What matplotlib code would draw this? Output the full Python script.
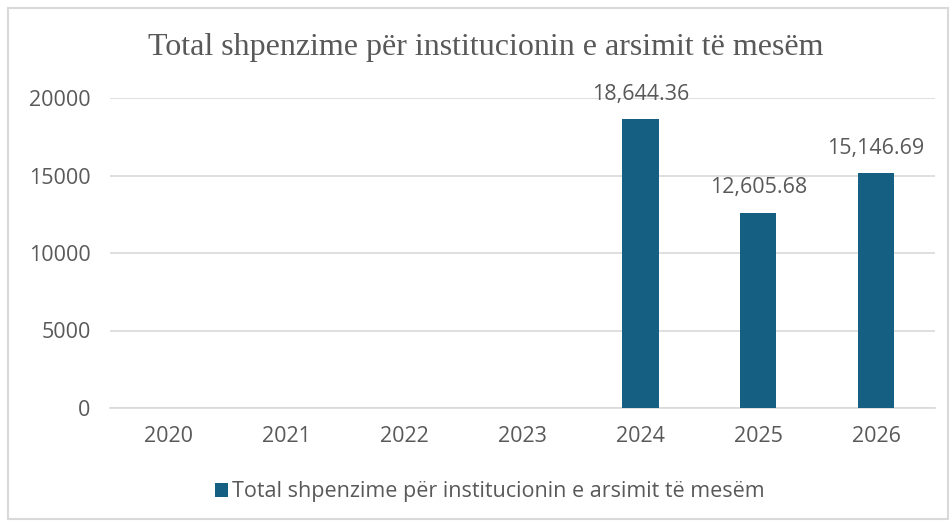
import matplotlib
matplotlib.use("Agg")
import matplotlib.pyplot as plt
from matplotlib.patches import Rectangle

years = ["2020", "2021", "2022", "2023", "2024", "2025", "2026"]
values = [0, 0, 0, 0, 18644.36, 12605.68, 15146.69]
yticks = [0, 5000, 10000, 15000, 20000]
title = "Total shpenzime për institucionin e arsimit të mesëm"
series_name = "Total shpenzime për institucionin e arsimit të mesëm"

bar_color = "#156082"
text_color = "#595959"
grid_color = "#d9d9d9"
sans = ["Open Sans", "DejaVu Sans"]
fs = 15.5

W, H = 953, 527
fig = plt.figure(figsize=(W / 100, H / 100), dpi=100)
ax = fig.add_axes([110 / W, 1 - 408 / H, 825 / W, 310 / H])

x = list(range(len(years)))
bars = ax.bar(x, values, width=0.31, color=bar_color, label=series_name, zorder=3)
for xi, v in zip(x, values):
    if v > 0:
        ax.annotate(f"{v:,.2f}", (xi, v), xytext=(0, 18), textcoords="offset points",
                    ha="center", va="center", fontsize=fs, color=text_color, family=sans)

ax.set_xlim(-0.5, len(years) - 0.5)
ax.set_ylim(0, 20000)
ax.set_yticks(yticks)
ax.set_yticklabels([str(t) for t in yticks])
ax.set_xticks(x)
ax.set_xticklabels(years)
ax.yaxis.grid(True, color=grid_color, linewidth=1.2, zorder=0)
for s in ax.spines.values():
    s.set_visible(False)
ax.spines["bottom"].set_visible(True)
ax.spines["bottom"].set_color(grid_color)
ax.spines["bottom"].set_linewidth(1.2)
ax.tick_params(axis="both", length=0, labelsize=fs, colors=text_color)
ax.tick_params(axis="y", pad=14)
ax.tick_params(axis="x", pad=13)
for lab in ax.get_xticklabels() + ax.get_yticklabels():
    lab.set_family(sans)

fig.text(486 / W, 1 - 48 / H, title, ha="center", va="center", fontsize=23,
         color=text_color, family=["Liberation Serif", "DejaVu Serif"])

leg = fig.legend(handles=[bars], labels=[series_name], loc="center", bbox_to_anchor=(490 / W, 1 - 492 / H),
                 frameon=False, handlelength=0.6, handleheight=0.6, handletextpad=0.2,
                 prop={"family": sans, "size": fs})
for t in leg.get_texts():
    t.set_color(text_color)

fig.add_artist(Rectangle((8 / W, 8 / H), 940 / W, 511 / H, transform=fig.transFigure,
                         fill=False, edgecolor="#d9d9d9", linewidth=1.5))

fig.savefig("out.png", dpi=100)
